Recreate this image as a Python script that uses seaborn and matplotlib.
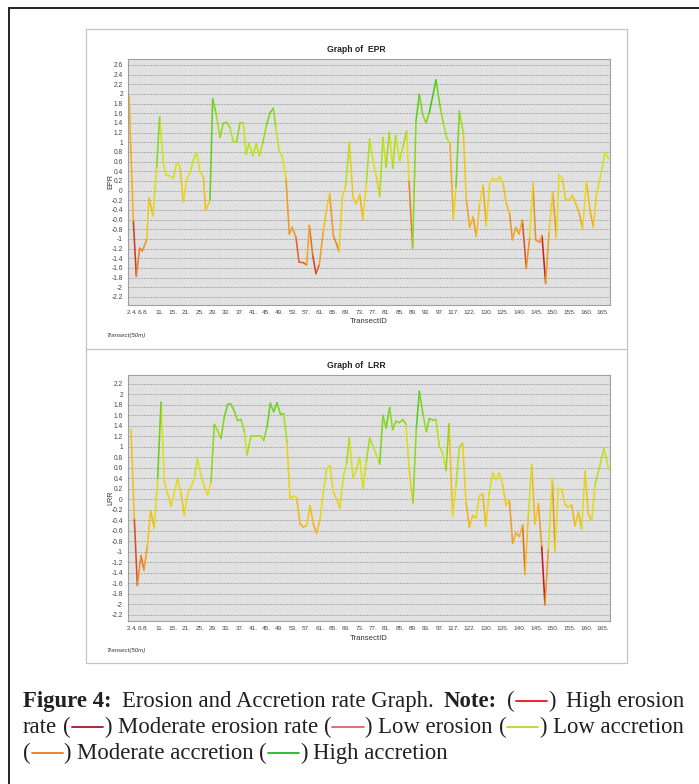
import numpy as np
import pandas as pd
import matplotlib
matplotlib.use("Agg")
import matplotlib.pyplot as plt
import seaborn as sns
from matplotlib.colors import LinearSegmentedColormap, Normalize
from matplotlib.lines import Line2D

# ---------------- data ----------------
transect_ids = [2, 4, 6, 8, 11, 15, 21, 25, 29, 33, 37, 41, 45, 49, 53, 57, 61, 65,
                69, 73, 77, 81, 85, 89, 93, 97, 117, 122, 130, 135, 140, 145, 150,
                155, 160, 165]

epr_pos = [0.3, 1.6, 2.5, 3.5, 4.3, 5.6, 6.3, 7.5, 8.6, 9.5, 10.6, 11.4, 12.4, 13.6,
           14.6, 15.6, 16.6, 17.6, 18.6, 19.6, 20.6, 21.6, 22.6, 23.3, 24.6, 25.4,
           26.5, 27.6, 28.6, 29.6, 30.6, 31.6, 32.6, 33.6, 34.6, 35.4, 36.3, 37.4,
           38.5, 39.4, 40.4, 41.6, 42.6, 43.6, 44.3, 45.3, 46.3, 47.4, 48.4, 49.3,
           50.4, 51.3, 52.6, 53.6, 54.4, 55.4, 56.4, 57.4, 58.6, 59.6, 60.5, 61.6,
           62.6, 63.3, 64.3, 65.3, 66.4, 67.5, 68.5, 69.5, 70.5, 71.5, 72.5, 73.6,
           74.5, 75.5, 76.5, 77.4, 78.4, 79.4, 80.3, 81.5, 82.5, 83.6, 84.3, 85.4,
           86.4, 87.4, 88.4, 89.4, 90.4, 92.4, 93.6, 94.6, 95.6, 96.6, 97.6, 98.4,
           99.4, 100.6, 101.5, 102.5, 103.5, 104.5, 105.5, 106.5, 107.5, 108.5,
           109.5, 110.5, 111.5, 112.5, 113.5, 114.5, 115.3, 116.3, 117.3, 118.3,
           119.5, 120.5, 121.5, 122.3, 123.5, 124.2, 125.3, 126.3, 127.4, 128.5,
           129.3, 130.3, 131.3, 132.3, 133.3, 134.3, 135.3, 136.4, 137.5, 138.7,
           139.6, 140.5, 142.1, 143.1, 144.2]
epr_val = [1.97, -0.62, -1.77, -1.19, -1.25, -1.02, -0.15, -0.52, 0.49, 1.52, 0.56,
           0.32, 0.31, 0.25, 0.58, 0.49, -0.24, 0.23, 0.36, 0.63, 0.79, 0.39, 0.29,
           -0.41, -0.20, 1.90, 1.57, 1.10, 1.40, 1.41, 1.30, 1.00, 1.02, 1.40, 1.40,
           0.75, 0.98, 0.72, 0.97, 0.72, 0.98, 1.37, 1.61, 1.70, 1.33, 0.83, 0.70,
           0.25, -0.90, -0.76, -0.97, -1.48, -1.49, -1.54, -0.72, -1.33, -1.72,
           -1.53, -0.83, -0.38, -0.06, -0.93, -1.11, -1.26, -0.13, 0.11, 1.00,
           -0.13, -0.27, -0.08, -0.60, 0.15, 1.07, 0.58, 0.29, -0.12, 1.10, 0.48,
           1.21, 0.46, 1.14, 0.62, 0.91, 1.23, 0.20, -1.19, 1.44, 1.99, 1.57, 1.40,
           1.61, 2.29, 1.75, 1.40, 1.09, 0.97, -0.59, 0.08, 1.64, 1.19, -0.19, -0.76,
           -0.55, -0.95, -0.27, 0.11, -0.72, 0.15, 0.26, 0.20, 0.29, 0.16, -0.27,
           -0.48, -1.02, -0.76, -0.90, -0.61, -1.61, -0.97, 0.15, -1.02, -1.07,
           -0.93, -1.92, -0.86, -0.03, -0.97, 0.33, 0.25, -0.19, -0.20, -0.10, -0.27,
           -0.45, -0.79, 0.20, -0.45, -0.75, -0.10, 0.40, 0.80, 0.65]

lrr_pos = [0.9, 1.9, 2.8, 3.9, 4.8, 5.8, 6.8, 7.9, 8.9, 9.9, 10.9, 11.9, 12.9, 14.9,
           15.9, 16.9, 17.9, 18.9, 19.9, 20.8, 21.9, 22.9, 23.9, 24.9, 25.9, 26.9,
           27.9, 28.9, 29.9, 30.9, 31.9, 32.9, 33.9, 34.9, 35.7, 36.9, 38.9, 39.9,
           40.7, 41.7, 42.7, 43.7, 44.7, 45.7, 46.7, 47.7, 48.6, 49.6, 50.6, 51.6,
           52.6, 53.6, 54.6, 55.6, 56.6, 57.6, 58.6, 59.6, 60.6, 61.6, 62.6, 63.6,
           64.6, 65.6, 66.4, 67.5, 68.5, 69.5, 70.5, 71.5, 72.5, 73.5, 74.5, 75.5,
           76.5, 77.4, 78.5, 79.4, 80.4, 81.4, 82.4, 83.4, 84.4, 85.5, 86.5, 87.4,
           88.5, 89.5, 90.4, 91.4, 92.4, 93.4, 94.4, 95.4, 96.3, 97.4, 98.4, 99.4,
           100.4, 101.4, 102.4, 103.4, 104.4, 105.4, 106.4, 107.4, 108.4, 109.4,
           110.4, 111.4, 112.4, 113.4, 114.4, 115.4, 116.4, 117.4, 118.4, 119.1,
           120.1, 121.1, 122.1, 123.1, 124.1, 125.1, 126.1, 127.3, 128.1, 129.1,
           130.1, 131.1, 132.1, 133.1, 134.1, 135.1, 136.1, 137.1, 138.1, 139.1,
           140.1, 142.8, 144.2]
lrr_val = [1.33, -0.37, -1.64, -1.07, -1.35, -0.89, -0.21, -0.55, 0.40, 1.85, 0.33,
           0.11, -0.13, 0.40, 0.11, -0.30, 0.11, 0.24, 0.39, 0.77, 0.46, 0.24, 0.08,
           0.33, 1.43, 1.31, 1.16, 1.57, 1.81, 1.81, 1.68, 1.50, 1.52, 1.30, 0.85,
           1.20, 1.20, 1.20, 1.12, 1.38, 1.83, 1.67, 1.84, 1.63, 1.63, 1.09, 0.01,
           0.06, 0.03, -0.47, -0.53, -0.50, -0.12, -0.47, -0.65, -0.39, 0.14, 0.59,
           0.64, 0.14, 0.00, -0.17, 0.43, 0.69, 1.17, 0.41, 0.56, 0.80, 0.21, 0.72,
           1.17, 1.01, 0.85, 0.67, 1.60, 1.36, 1.75, 1.33, 1.49, 1.46, 1.52, 1.43,
           0.54, -0.07, 1.36, 2.06, 1.62, 1.29, 1.54, 1.51, 1.52, 1.01, 0.88, 0.55,
           1.44, -0.32, 0.27, 0.99, 1.07, -0.05, -0.53, -0.31, -0.36, 0.06, 0.11,
           -0.51, 0.14, 0.50, 0.37, 0.50, 0.28, -0.12, -0.01, -0.84, -0.64, -0.71,
           -0.49, -1.43, -0.31, 0.66, -0.47, -0.08, -0.89, -2.01, -0.95, 0.40, -0.98,
           0.21, 0.19, -0.10, -0.15, -0.10, -0.51, -0.24, -0.57, 0.54, -0.28, -0.41,
           0.27, 0.97, 0.57]

epr_yticks = [round(-2.2 + 0.2 * k, 1) for k in range(25)]
lrr_yticks = [round(-2.2 + 0.2 * k, 1) for k in range(23)]

legend_classes = ["High erosion", "Moderate erosion rate", "Low erosion",
                  "Low accretion", "Moderate accretion", "High accretion"]
legend_colors = ["#e8141a", "#a81818", "#dc6464", "#b8d82a", "#ea7a1e", "#22b822"]

# ---------------- style ----------------
W, H = 699, 784
sns.set_style("white")
plt.rcParams["font.family"] = ["Liberation Sans", "DejaVu Sans"]
fig = plt.figure(figsize=(W / 100, H / 100), dpi=100)


def fx(px):
    return px / W


def fy(py):
    return 1 - py / H


ramp = [(-2.0, "#c41a1a"), (-1.5, "#e2622a"), (-1.0, "#ee9428"), (-0.4, "#f3bd1c"),
        (0.2, "#e6dc18"), (0.8, "#c4e41c"), (1.3, "#94dc20"), (2.3, "#44c81c")]
cmap = LinearSegmentedColormap.from_list(
    "er", [((v + 2.0) / 4.3, c) for v, c in ramp])
norm = Normalize(-2.0, 2.3)

# x tick positions (in point-index units)
tick_px = [129, 134.5, 140, 145.5] + [159.7 + 13.333 * k for k in range(23)] + \
          [453 + 16.667 * k for k in range(1, 10)]
tick_u = [(p - 128) * 0.3 for p in tick_px]
X_MAX = (610 - 128) * 0.3


def segments(pos, val):
    rows = []
    for i in range(len(pos) - 1):
        c = val[i + 1]
        rows.append((pos[i], val[i], i, c))
        rows.append((pos[i + 1], val[i + 1], i, c))
    return pd.DataFrame(rows, columns=["pos", "val", "seg", "c"])


def panel(box, pos, val, yticks, ylim, title, ylab, title_y, xl_y, note_y):
    left, top, right, bottom = box
    ax = fig.add_axes([fx(left), fy(bottom), fx(right - left), (bottom - top) / H])
    ax.set_facecolor("#e1e1e1")
    df = segments(pos, val)
    sns.lineplot(data=df, x="pos", y="val", units="seg", estimator=None, hue="c",
                 palette=cmap, hue_norm=norm, legend=False, sort=False, ax=ax,
                 linewidth=1.15)
    ax.set_xlim(0, X_MAX)
    ax.set_ylim(*ylim)
    ax.set_yticks(yticks)
    ax.set_yticklabels([f"{v + 0.0:g}" for v in yticks], fontsize=4.8, color="#444444")
    ax.set_xticks(tick_u)
    ax.set_xticklabels([f"{t}." for t in transect_ids], fontsize=4.6, color="#444444")
    ax.tick_params(axis="both", direction="out", length=2.5, width=0.6,
                   color="#666666", pad=1.2)
    ax.yaxis.grid(True, color="#a4a4a4", linestyle=(0, (2.5, 1.2)), linewidth=0.6)
    ax.xaxis.grid(False)
    ax.set_axisbelow(True)
    for s in ax.spines.values():
        s.set_color("#a0a0a0")
        s.set_linewidth(0.8)
    ax.set_xlabel("")
    ax.set_ylabel("")
    fig.text(fx(356.5), fy(title_y), title, fontsize=6.2, weight="bold",
             ha="center", va="center", color="#222222")
    fig.text(fx(111), fy((top + bottom) / 2), ylab, fontsize=5.2, rotation=90,
             ha="center", va="center", color="#333333")
    fig.text(fx(369), fy(xl_y), "TransectID", fontsize=5.6, ha="center",
             va="center", color="#333333")
    fig.text(fx(106), fy(note_y), "Transect(50m)", fontsize=4.4, style="italic",
             ha="left", va="center", color="#333333")
    return ax


panel((128, 58.6, 610, 304.7), epr_pos, epr_val, epr_yticks, (-2.36, 2.73),
      "Graph of  EPR", "EPR", 49.3, 321.9, 335)
panel((128, 375, 610, 621), lrr_pos, lrr_val, lrr_yticks, (-2.32, 2.37),
      "Graph of  LRR", "LRR", 365.5, 638.4, 650.5)

# frames
frame_c = "#c4c4c4"
for xs, ys in [((86, 627), (29, 29)), ((86, 627), (663, 663)), ((86, 86), (29, 663)),
               ((627, 627), (29, 663)), ((86, 627), (349, 349))]:
    fig.add_artist(Line2D([fx(x) for x in xs], [fy(y) for y in ys], color=frame_c,
                          lw=0.9))
fig.add_artist(Line2D([fx(8.7), fx(699)], [fy(7.8), fy(7.8)], color="#222222", lw=1.4))
fig.add_artist(Line2D([fx(8.7), fx(8.7)], [fy(7.8), fy(784)], color="#222222", lw=1.4))

# ---------------- caption ----------------
SP = ("sp",)


def T(s, bold=False):
    return ("t", s, bold)


def D(c):
    return ("d", c)


cap_lines = [
    [T("Figure 4:", True), SP, T("Erosion and Accretion rate Graph."), SP, T("Note:", True),
     SP, T("("), D(legend_colors[0]), T(")"), SP, T("High erosion")],
    [T("rate"), SP, T("("), D(legend_colors[1]), T(")"), SP, T("Moderate erosion rate"),
     SP, T("("), D(legend_colors[2]), T(")"), SP, T("Low erosion"), SP, T("("),
     D(legend_colors[3]), T(")"), SP, T("Low accretion")],
    [T("("), D(legend_colors[4]), T(")"), SP, T("Moderate accretion"), SP, T("("),
     D(legend_colors[5]), T(")"), SP, T("High accretion")],
]
renderer = fig.canvas.get_renderer()
CAP_FONT = "Liberation Serif"
TXT_C = "#231f20"


def measure(s, bold, fs):
    t = fig.text(0, 0, s, fontsize=fs, weight="bold" if bold else "normal",
                 family=CAP_FONT)
    w = t.get_window_extent(renderer).width
    t.remove()
    return w


def line_width(line, fs):
    sp = measure("x x", False, fs) - measure("xx", False, fs)
    w, n = 0, 0
    for tok in line:
        if tok[0] == "t":
            w += measure(tok[1], tok[2], fs)
        elif tok[0] == "d":
            w += 1.45 * fs * 100 / 72
        else:
            w += sp
            n += 1
    return w, n, sp


x0, x1 = 23, 684
fs = 15.0
wmax = max(line_width(cap_lines[0], fs)[0], line_width(cap_lines[1], fs)[0])
fs = fs * (x1 - x0) / wmax
baselines = [707, 733, 759]
for li, line in enumerate(cap_lines):
    w, n, sp = line_width(line, fs)
    if li < 2 and n:
        sp = sp + (x1 - x0 - w) / n
    x = x0
    y = baselines[li]
    for tok in line:
        if tok[0] == "t":
            t = fig.text(fx(x), fy(y), tok[1], fontsize=fs,
                         weight="bold" if tok[2] else "normal", family=CAP_FONT,
                         ha="left", va="baseline", color=TXT_C)
            x += t.get_window_extent(renderer).width
        elif tok[0] == "d":
            dw = 1.45 * fs * 100 / 72
            fig.add_artist(Line2D([fx(x + 1), fx(x + dw - 1)], [fy(y - 6.2)] * 2,
                                  color=tok[1], lw=1.3))
            x += dw
        else:
            x += sp

fig.savefig("out.png", dpi=100)
